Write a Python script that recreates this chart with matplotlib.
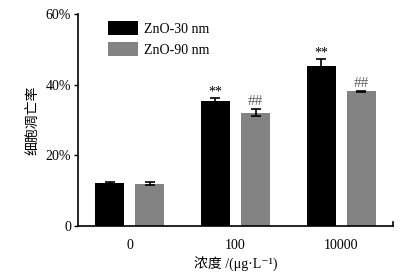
import numpy as np
import matplotlib
matplotlib.use('Agg')
import matplotlib.pyplot as plt

plt.rcParams['font.family'] = ['Liberation Serif', 'Noto Sans CJK SC', 'DejaVu Serif']

groups = ['0', '100', '10000']
series = ['ZnO-30 nm', 'ZnO-90 nm']
zno30 = [12.2, 35.4, 45.4]
zno30_err = [0.3, 0.8, 1.8]
zno90 = [12.0, 32.1, 38.1]
zno90_err = [0.4, 1.0, 0.2]
marks30 = ['', '**', '**']
marks90 = ['', '##', '##']

fig = plt.figure(figsize=(4.06, 2.74), dpi=100)
ax = fig.add_axes([0.192, 0.175, 0.776, 0.774])

x = np.arange(len(groups))
w = 0.275
off = 0.19
ax.bar(x - off, zno30, w, color='black', label=series[0],
       yerr=zno30_err, error_kw=dict(ecolor='black', capsize=3.5, elinewidth=1.2, capthick=1.2))
ax.bar(x + off, zno90, w, color='#838383', label=series[1],
       yerr=zno90_err, error_kw=dict(ecolor='black', capsize=3.5, elinewidth=1.2, capthick=1.2))

for i in range(len(groups)):
    if marks30[i]:
        ax.text(x[i] - off, zno30[i] + zno30_err[i] - 0.2, marks30[i],
                ha='center', va='bottom', fontsize=10)
    if marks90[i]:
        ax.text(x[i] + off, zno90[i] + zno90_err[i] + 0.2, marks90[i],
                ha='center', va='bottom', fontsize=11, color='#606060')

ax.set_xlim(-0.49, 2.49)
ax.set_ylim(0, 60)
ax.set_yticks([0, 20, 40, 60])
ax.set_yticklabels(['0', '20%', '40%', '60%'], fontsize=10)
ax.set_xticks(x)
ax.set_xticklabels(groups, fontsize=10)
ax.tick_params(axis='x', length=0, pad=9)
ax.tick_params(axis='y', length=3, width=1, direction='out', pad=2)
ax.spines['top'].set_visible(False)
ax.spines['right'].set_visible(False)
ax.spines['left'].set_linewidth(1.2)
ax.spines['bottom'].set_linewidth(1.2)
# small end tick on the x axis
ax.plot([1, 1], [0, 0.018], transform=ax.transAxes, color='black', lw=1.2, clip_on=False)

ax.set_ylabel('细胞凋亡率', fontsize=10, labelpad=4)
ax.set_xlabel('浓度 /(μg·L⁻¹)', fontsize=10, labelpad=4)

leg = ax.legend(loc='upper left', bbox_to_anchor=(0.055, 1.025), frameon=False,
                fontsize=10, handlelength=2.2, handleheight=1.2, labelspacing=0.45,
                handletextpad=0.4)

fig.savefig('out.png', dpi=100)
